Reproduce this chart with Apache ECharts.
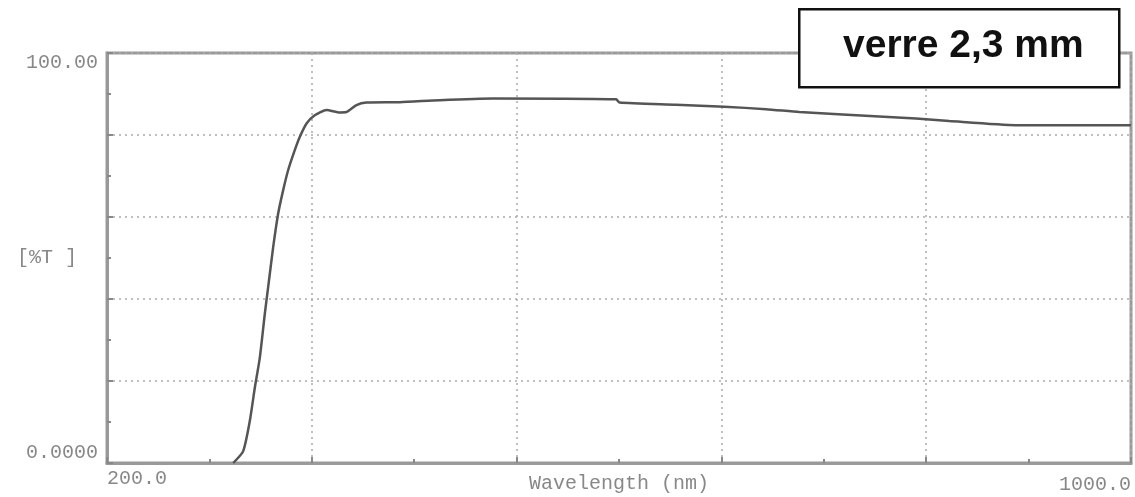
<!DOCTYPE html>
<html>
<head>
<meta charset="utf-8">
<title>verre 2,3 mm</title>
<script src="https://cdn.jsdelivr.net/npm/echarts@6/dist/echarts.min.js"></script>
<style>
  html, body { margin: 0; padding: 0; background: #fff; }
  #main { width: 1135px; height: 497px; }
</style>
</head>
<body>
<div id="main"></div>
<script>
// transmission curve
const wavelength = [298.6, 306.4, 311.6, 315.5, 319.4, 323.3, 325.9, 329.8, 333.7, 337.6, 341.5, 346.7,
  350.6, 355.9, 362.3, 371.5, 381.9, 387.1, 394.9, 402.7, 428.7, 459.9, 501.5, 597.8, 600.4, 644.6,
  682.3, 714.9, 740.9, 774.7, 832, 858, 910, 1000];
const transmission = [0, 2.9, 10.3, 18.4, 25.7, 36.4, 42.9, 52.6, 60.8, 66.5, 71.4, 76.3,
  79.5, 82.8, 84.8, 86.1, 85.5, 85.6, 87.3, 87.9, 88.0, 88.5, 88.9, 88.7, 87.9, 87.4,
  86.9, 86.3, 85.6, 85.0, 84.0, 83.4, 82.4, 82.4];
const xLabels = { 200: '{a|200.0}', 1000: '{b|1000.0}' };
const yLabels = { 0: '0.0000', 100: '100.00' };
const title = 'verre 2,3 mm';

let points = [];
for (let i = 0; i < wavelength.length; i++) {
  points.push([wavelength[i], transmission[i]]);
}

let myChart = echarts.init(document.getElementById('main'));
let labelFont = {
  fontFamily: 'Liberation Mono',
  fontSize: 20,
  color: '#888'
};
let option = {
  animation: false,
  backgroundColor: '#fff',
  grid: {
    left: 107,
    right: 4,
    top: 53,
    bottom: 34,
    containLabel: false,
    outerBoundsMode: 'none',
    show: true,
    borderColor: '#999',
    borderWidth: 3
  },
  xAxis: {
    type: 'value',
    min: 200,
    max: 1000,
    interval: 160,
    name: 'Wavelength (nm)',
    nameLocation: 'middle',
    nameGap: 11,
    nameMoveOverlap: false,
    nameTextStyle: labelFont,
    axisLine: { lineStyle: { color: '#999', width: 3 } },
    axisTick: { inside: true, length: 6, lineStyle: { color: '#888', width: 2 } },
    minorTick: { show: true, splitNumber: 2, length: 4, lineStyle: { color: '#888', width: 2 } },
    splitLine: { show: true, lineStyle: { color: '#aaa', width: 1.5, type: [2, 4] } },
    axisLabel: Object.assign({
      margin: 6,
      alignMinLabel: 'left',
      alignMaxLabel: 'right',
      formatter: v => xLabels[v] || '',
      rich: {
        a: labelFont,
        b: Object.assign({ padding: [6, 0, 0, 0] }, labelFont)
      }
    }, labelFont)
  },
  yAxis: {
    type: 'value',
    min: 0,
    max: 100,
    interval: 20,
    name: '[%T ]',
    nameLocation: 'middle',
    nameRotate: 0,
    nameGap: 30,
    nameMoveOverlap: false,
    nameTextStyle: Object.assign({ align: 'right' }, labelFont),
    axisLine: { show: true, lineStyle: { color: '#999', width: 3 } },
    axisTick: { show: true, inside: true, length: 6, lineStyle: { color: '#888', width: 2 } },
    minorTick: { show: true, splitNumber: 2, length: 4, lineStyle: { color: '#888', width: 2 } },
    splitLine: { show: true, lineStyle: { color: '#aaa', width: 1.5, type: [2, 4] } },
    axisLabel: Object.assign({
      margin: 9,
      verticalAlignMinLabel: 'bottom',
      verticalAlignMaxLabel: 'top',
      formatter: v => yLabels[v] || ''
    }, labelFont)
  },
  series: [
    {
      type: 'line',
      data: points,
      showSymbol: false,
      smooth: 0.2,
      lineStyle: { color: '#555', width: 2.5 }
    }
  ],
  graphic: [
    {
      type: 'rect',
      left: 798,
      top: 8,
      shape: { width: 320, height: 78 },
      style: { fill: '#fff', stroke: '#111', lineWidth: 2.5 },
      z: 100
    },
    {
      type: 'text',
      left: 843,
      top: 27,
      style: {
        text: title,
        fontFamily: 'Liberation Sans',
        fontWeight: 'bold',
        fontSize: 39,
        fill: '#111'
      },
      z: 101
    }
  ]
};
myChart.setOption(option);
</script>
</body>
</html>
